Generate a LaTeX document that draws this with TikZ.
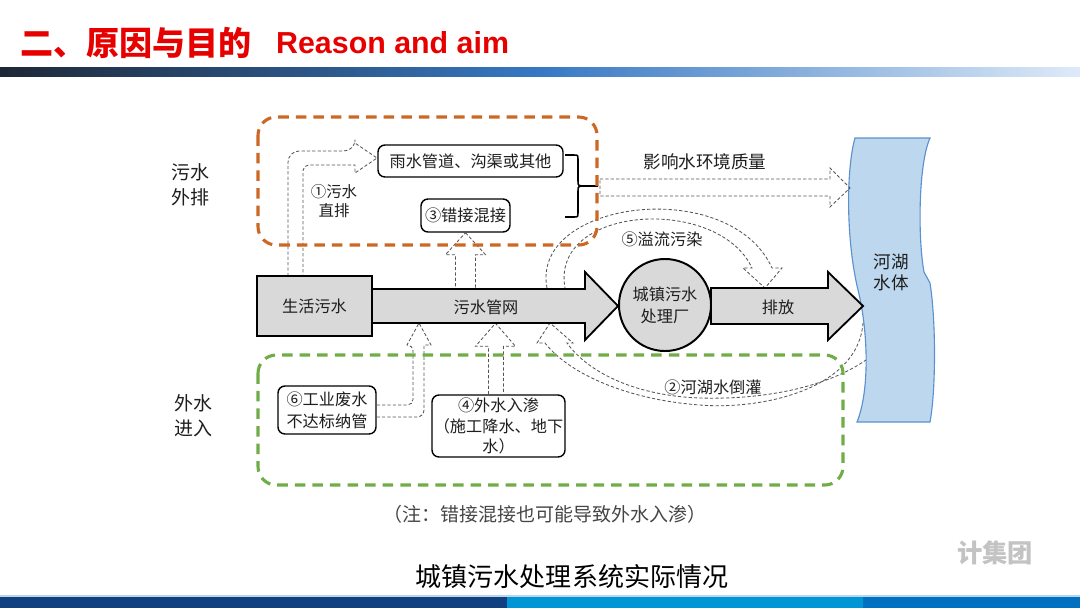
\documentclass[tikz,border=0pt]{standalone}
\usepackage{fontspec}
\setmainfont{Noto Sans CJK SC}
\newfontfamily\arialfont{Liberation Sans}
\usetikzlibrary{calc,positioning}

\definecolor{titlered}{RGB}{230,0,0}
\definecolor{ink}{RGB}{30,30,30}
\definecolor{notegray}{RGB}{70,70,70}
\definecolor{boxgray}{RGB}{217,217,217}
\definecolor{dashgray}{RGB}{85,85,85}
\definecolor{orangeframe}{RGB}{204,104,36}
\definecolor{greenframe}{RGB}{112,173,71}
\definecolor{riverfill}{RGB}{189,215,238}
\definecolor{riverline}{RGB}{91,145,205}
\definecolor{bandL}{RGB}{30,40,55}
\definecolor{bandM}{RGB}{55,120,195}
\definecolor{bandR}{RGB}{222,234,248}
\definecolor{footA}{RGB}{16,64,128}
\definecolor{footB}{RGB}{0,150,214}
\definecolor{footC}{RGB}{0,112,192}
\definecolor{footline}{RGB}{185,215,235}
\definecolor{markgray}{RGB}{195,195,195}

\begin{document}
\begin{tikzpicture}[x=0.025cm,y=-0.025cm,
  txt/.style={text=ink,inner sep=0pt,align=center,font=\fontsize{11.5}{15.5}\selectfont},
  box/.style={txt,draw=black,line width=1pt,rounded corners=5pt,fill=white},
  graybox/.style={txt,draw=black,line width=1.4pt,fill=boxgray},
  frame/.style={line width=2.2pt,dash pattern=on 7.5pt off 5pt,rounded corners=13pt},
  hollow/.style={draw=dashgray,line width=0.6pt,dash pattern=on 2.3pt off 1.5pt,line join=miter},
  blockarrow/.style={draw=black,line width=1.3pt,fill=boxgray,line join=miter}]

  % page and bands
  \useasboundingbox (0,0) rectangle (1080,608);
  \fill[white] (0,0) rectangle (1080,608);
  \shade[left color=bandL,right color=bandR,middle color=bandM] (0,67) rectangle (1080,76);
  \fill[footline] (0,595) rectangle (1080,597);
  \fill[footA] (0,597) rectangle (507,608);
  \fill[footB] (507,597) rectangle (863,608);
  \fill[footC] (863,597) rectangle (1080,608);

  % title
  \node[anchor=west,inner sep=0pt,text=titlered,font=\fontsize{23.5}{24}\selectfont\bfseries] (title) at (20,43) {二、原因与目的};
  \node[right=0.6cm of title,inner sep=0pt,text=titlered,font=\arialfont\fontsize{21.6}{22}\selectfont\bfseries] (titleen) {Reason and aim};

  % river
  \draw[fill=riverfill,draw=riverline,line width=0.8pt] (855,138) -- (930,138)
    .. controls (918,165) and (918,240) .. (924,272) -- (930,283)
    .. controls (936,320) and (936,390) .. (930,422) -- (857,422)
    .. controls (870,390) and (868,330) .. (858,290)
    .. controls (846,240) and (846,170) .. (855,138) -- cycle;
  \node[txt,font=\fontsize{12.5}{15}\selectfont] (river) at (891,272) {河湖\\水体};

  % boxes
  \node[box,minimum width=4.625cm,minimum height=0.8cm] (rain) at (470.5,161) {雨水管道、沟渠或其他};
  \node[box,minimum width=2.225cm,minimum height=0.825cm] (mix) at (465.5,215.5) {③错接混接};
  \node[box,minimum width=2.45cm,minimum height=1.2cm] (ind) at (327,410) {⑥工业废水\\不达标纳管};
  \node[box,minimum width=3.325cm,minimum height=1.55cm,font=\fontsize{11.5}{14.5}\selectfont] (seep) at (498.5,426) {④外水入渗\\（施工降水、地下\\水）};

  % bracket
  \draw[line width=1.1pt] (565,155) -- (574,155) .. controls (578,155) .. (578,160) -- (578,181)
    .. controls (578,186) .. (586,186) -- (598,186)
    (586,186) .. controls (578,186) .. (578,191) -- (578,212)
    .. controls (578,217) .. (574,217) -- (565,217);

  % dashed hollow arrows
  \draw[hollow] (600,179) -- (830,179) -- (830,168) -- (850,188) -- (830,207) -- (830,196) -- (600,196) -- cycle;
  \draw[hollow] (288,276) [rounded corners=8pt] |- (355,151) [sharp corners] -- (355,143) -- (377,158)
    -- (355,173) -- (355,165) [rounded corners=4pt] -| (303,276);
  \draw[hollow] (mix.south) -- ++(20,22) -- ++(-10,0) -- ++(0,34) -- ++(-20,0) -- ++(0,-34) -- ++(-10,0) -- cycle;
  \draw[hollow] ($(seep.north)+(-10,0)$) -- ++(0,-48) -- ++(-13,0) -- ++(20,-23) -- ++(20,23) -- ++(-12,0) -- ++(0,48);
  \draw[hollow] ($(ind.east)+(0,-5)$) [rounded corners=4pt] -| (413,345) [sharp corners] -- (407,345) -- (419,323)
    -- (431,345) -- (424,345) [rounded corners=5pt] |- ($(ind.east)+(0,7)$);
  \draw[hollow] (547,288) .. controls (530,200) and (730,175) .. (772,268) -- (782,268) -- (765,288)
    -- (743,268) -- (752,268) .. controls (718,195) and (550,205) .. (565,288);
  \draw[hollow] (863,323) .. controls (858,390) and (760,410) .. (700,405)
    .. controls (630,400) and (570,375) .. (545,343) -- (537,343) -- (550,323) -- (573,343) -- (567,343)
    .. controls (590,375) and (640,396) .. (700,398) .. controls (770,400) and (830,385) .. (866,360);

  % main flow
  \draw[blockarrow] (372,289) -- (585,289) -- (585,272) -- (618,306) -- (585,340) -- (585,323) -- (372,323) -- cycle;
  \draw[blockarrow] (711,288) -- (828,288) -- (828,272) -- (863,306) -- (828,340) -- (828,324) -- (711,324) -- cycle;
  \node[graybox,minimum width=2.875cm,minimum height=1.5cm] (live) at (314.5,306) {生活污水};
  \node[graybox,circle,minimum size=2.3cm,font=\fontsize{11.5}{15.5}\selectfont] (plant) at (665,305) {城镇污水\\处理厂};
  \node[txt] (net) at (486,307) {污水管网};
  \node[txt] (out) at (778,307) {排放};

  % labels
  \node[txt,font=\fontsize{13.5}{18}\selectfont] (outer) at (190,185) {污水\\外排};
  \node[txt,font=\fontsize{13.5}{18}\selectfont] (inner) at (193,416) {外水\\进入};
  \node[txt,font=\fontsize{11}{13}\selectfont] (direct) at (334,201) {①污水\\直排};
  \node[txt,font=\fontsize{12.5}{15}\selectfont] (impact) at (705,162) {影响水环境质量};
  \node[txt] (overflow) at (662,239) {⑤溢流污染};
  \node[txt] (back) at (713,387) {②河湖水倒灌};

  % frames
  \draw[frame,draw=orangeframe] (258,117) rectangle (597,245);
  \draw[frame,draw=greenframe] (258,355) rectangle (843,485);

  % note and caption
  \node[txt,text=notegray,font=\fontsize{13.5}{15}\selectfont] (note) at (545,514) {（注：错接混接也可能导致外水入渗）};
  \node[txt,text=black,font=\fontsize{18.5}{20}\selectfont] (caption) at (572,577) {城镇污水处理系统实际情况};
  \node[txt,text=markgray,font=\fontsize{18}{19}\selectfont\bfseries] (mark) at (995,553) {计集团};
\end{tikzpicture}
\end{document}
